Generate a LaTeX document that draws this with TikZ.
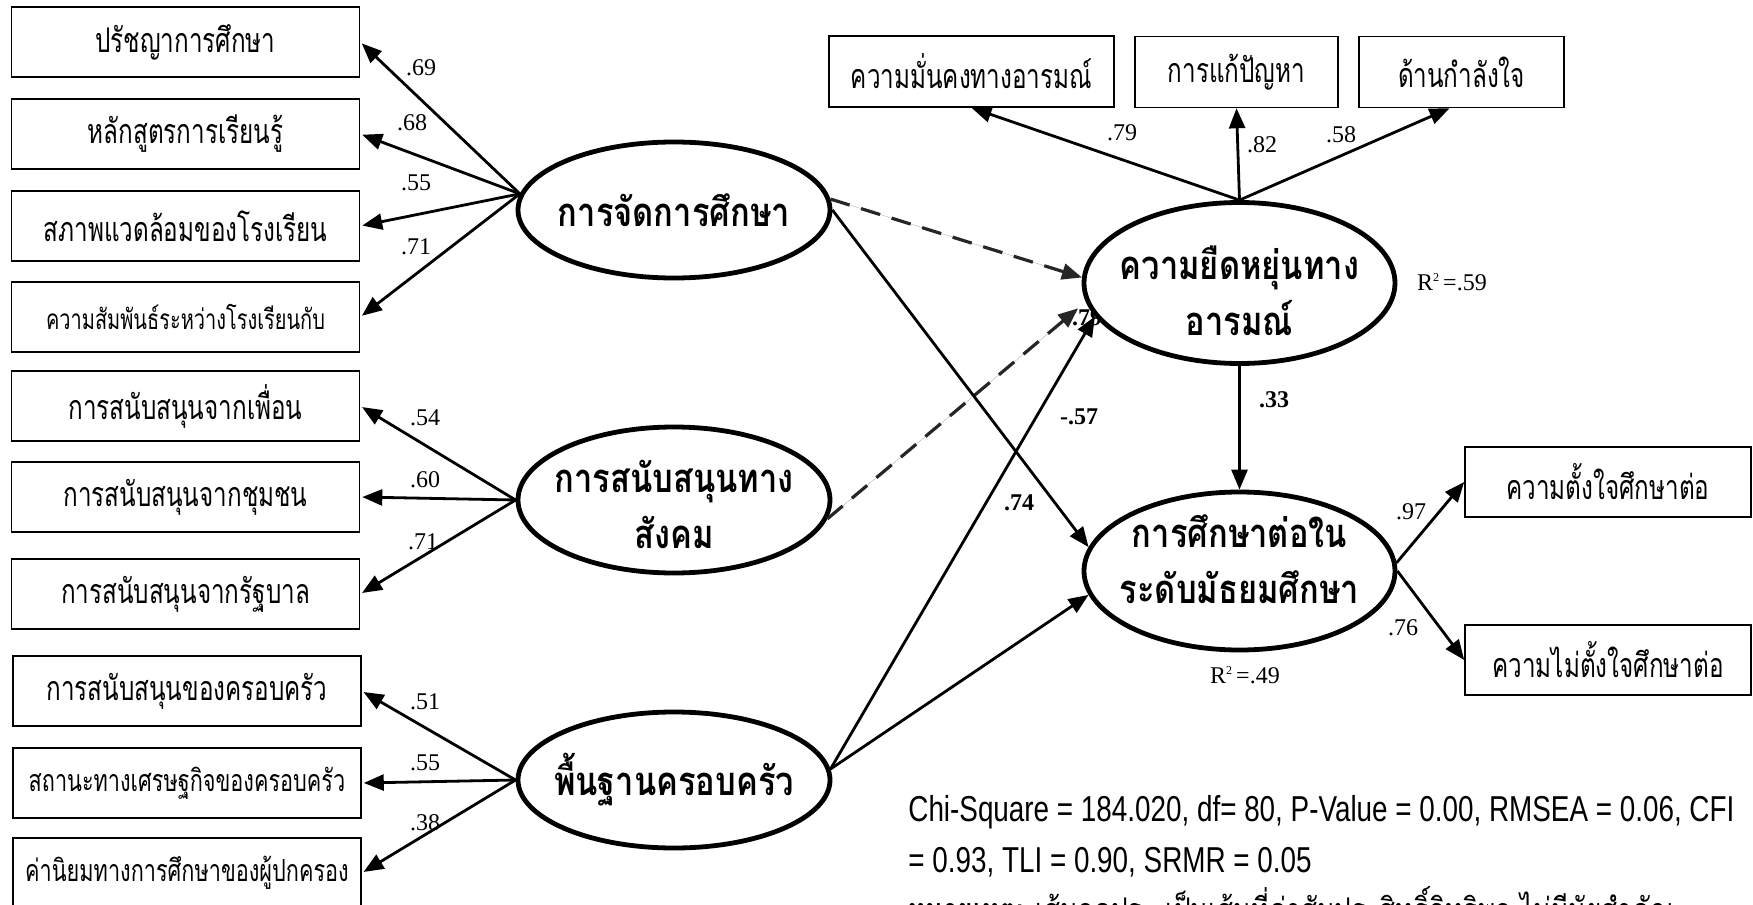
\documentclass[tikz,border=0pt]{standalone}
\usepackage{fontspec}
\setmainfont{Liberation Serif}
\newfontfamily\thai[Script=Thai]{Loma}
\newfontfamily\footfont{Liberation Sans}
\usetikzlibrary{arrows.meta,shapes.geometric}
\newlength\calw
\newcommand\tx[1]{\scalebox{\tsx}[1]{#1}}
\newcommand\ex[1]{\scalebox{\esx}[1]{#1}}
\newcommand\fx[1]{\scalebox{\fsx}[1]{#1}}
\newcommand\rsq[1]{R\raisebox{0.8ex}{\fontsize{6}{7}\selectfont 2}\,=.#1}
\AtBeginDocument{%
\settowidth{\calw}{\thai\fontsize{17}{19}\selectfont การสนับสนุนของครอบครัว}%
\pgfmathsetmacro\tsx{140.5pt/\calw}\global\let\tsx\tsx
\settowidth{\calw}{\thai\bfseries\fontsize{20}{28}\selectfont พื้นฐานครอบครัว}%
\pgfmathsetmacro\esx{120pt/\calw}\global\let\esx\esx
\settowidth{\calw}{\footfont\fontsize{18}{20}\selectfont Chi-Square = 184.020, df= 80, P-Value = 0.00, RMSEA = 0.06, CFI}%
\pgfmathsetmacro\fsx{413pt/\calw}\global\let\fsx\fsx}
\begin{document}
\begin{tikzpicture}[x=0.5pt,y=-0.5pt,
  box/.style={draw, line width=0.8pt, minimum width=174pt, minimum height=35pt, inner sep=0pt, fill=white, font=\thai\fontsize{17}{19}\selectfont},
  lat/.style={draw, ellipse, line width=2.4pt, inner sep=0pt, fill=white, minimum width=156pt},
  lattext/.style={inner sep=0pt, align=center, font=\thai\bfseries\fontsize{20}{28}\selectfont},
  arr/.style={-{Triangle[length=10pt,width=8pt]}, line width=1.4pt},
  dsh/.style={arr, line width=1.6pt, draw=black!85, fill=black!85, dash pattern=on 10pt off 6pt},
  lbl/.style={inner sep=0pt, font=\fontsize{12}{14}\selectfont},
  blbl/.style={inner sep=0pt, font=\fontsize{12}{14}\selectfont\bfseries}]
\useasboundingbox (0,0) rectangle (1753,905);
\clip (0,0) rectangle (1753,905);
\fill[white] (0,0) rectangle (1753,905);
% left indicator boxes
\node[box] (b1) at (185.5,42) {\tx{ปรัชญาการศึกษา}};
\node[box] (b2) at (185.5,134) {\tx{หลักสูตรการเรียนรู้}};
\node[box] (b3) at (185.5,226) {\tx{สภาพแวดล้อมของโรงเรียน}};
\node[box, font=\thai\fontsize{14}{16}\selectfont] (b4) at (185.5,317) {\tx{ความสัมพันธ์ระหว่างโรงเรียนกับ}};
\node[box] (b5) at (185.5,406) {\tx{การสนับสนุนจากเพื่อน}};
\node[box] (b6) at (185.5,497) {\tx{การสนับสนุนจากชุมชน}};
\node[box] (b7) at (185.5,594) {\tx{การสนับสนุนจากรัฐบาล}};
\node[box] (b8) at (187,691) {\tx{การสนับสนุนของครอบครัว}};
\node[box, font=\thai\fontsize{15.2}{17}\selectfont] (b9) at (187,783) {\tx{สถานะทางเศรษฐกิจของครอบครัว}};
\node[box, font=\thai\fontsize{15.2}{17}\selectfont] (b10) at (187,873) {\tx{ค่านิยมทางการศึกษาของผู้ปกครอง}};
% top and right boxes
\node[box, minimum width=142.5pt, minimum height=35.5pt] (t1) at (971.5,71.5) {\tx{ความมั่นคงทางอารมณ์}};
\node[box, minimum width=101.5pt, minimum height=35.5pt] (t2) at (1236.5,72) {\tx{การแก้ปัญหา}};
\node[box, minimum width=102.5pt, minimum height=35.5pt] (t3) at (1461.5,72) {\tx{ด้านกำลังใจ}};
\node[box, minimum width=143pt] (r1) at (1608,482) {\tx{ความตั้งใจศึกษาต่อ}};
\node[box, minimum width=143pt] (r2) at (1608,660) {\tx{ความไม่ตั้งใจศึกษาต่อ}};
% partly hidden path label
\node[blbl] (l79b) at (1087,318) {.79};
% latent variables
\node[lat, minimum height=68pt] (e1) at (674,210) {};
\node[lat, minimum height=73pt] (e2) at (674,500) {};
\node[lat, minimum height=68pt] (e3) at (674,780) {};
\node[lat, minimum width=155.5pt, minimum height=80.5pt] (e4) at (1239.5,283) {};
\node[lat, minimum width=155.5pt, minimum height=79pt] (e5) at (1239.5,571) {};
\node[lattext] (e1t) at (e1.center) {\ex{การจัดการศึกษา}};
\node[lattext] (e2t) at ([yshift=-2pt]e2.center) {\ex{การสนับสนุนทาง}\\\ex{สังคม}};
\node[lattext] (e3t) at (e3.center) {\ex{พื้นฐานครอบครัว}};
\node[lattext] (e4t) at ([yshift=-4pt]e4.center) {\ex{ความยืดหยุ่นทาง}\\\ex{อารมณ์}};
\node[lattext] (e5t) at ([yshift=6pt]e5.center) {\ex{การศึกษาต่อใน}\\\ex{ระดับมัธยมศึกษา}};
% loadings
\foreach \b in {b1,b2,b3,b4} \draw[arr, shorten >=1pt] (e1.174) -- (\b.east);
\foreach \b in {b5,b6,b7} \draw[arr, shorten >=1pt] (e2.west) -- (\b.east);
\foreach \b in {b8,b9,b10} \draw[arr, shorten >=1pt] (e3.west) -- (\b.east);
\draw[arr] (e4.north) -- (t1.south);
\draw[arr] (e4.north) -- (t2.south);
\draw[arr] (e4.north) -- ([xshift=-6pt]t3.south);
\draw[arr] (e5.3) -- (r1.west);
\draw[arr] (e5.east) -- (r2.west);
% structural paths
\draw[dsh] (e1.4) -- (e4.178);
\draw[dsh, shorten >=5pt] (e2.-7) -- (e4.187);
\draw[arr] (e1.east) -- (e5.171);
\draw[arr] (e3.4) -- (e4.193);
\draw[arr] (e3.4) -- (e5.189);
\draw[arr] (e4.south) -- (e5.north);
% labels
\node[lbl] (l1) at (421,68) {.69};
\node[lbl] (l2) at (412,123) {.68};
\node[lbl] (l3) at (416,183) {.55};
\node[lbl] (l4) at (416,247) {.71};
\node[lbl] (l5) at (425,418) {.54};
\node[lbl] (l6) at (425,480) {.60};
\node[lbl] (l7) at (423,542) {.71};
\node[lbl] (l8) at (425,702) {.51};
\node[lbl] (l9) at (425,763) {.55};
\node[lbl] (l10) at (425,823) {.38};
\node[lbl] (l11) at (1122,133) {.79};
\node[lbl] (l12) at (1262,145) {.82};
\node[lbl] (l13) at (1341,135) {.58};
\node[lbl] (l14) at (1411,512) {.97};
\node[lbl] (l15) at (1403,628) {.76};
\node[blbl] (l16) at (1274,400) {.33};
\node[blbl] (l17) at (1079,417) {-.57};
\node[blbl] (l18) at (1019,503) {.74};
\node[lbl] (r59) at (1452,282) {\rsq{59}};
\node[lbl] (r49) at (1245,675) {\rsq{49}};
% fit indices and note
\node[anchor=west, inner sep=0pt, font=\footfont\fontsize{18}{20}\selectfont] (f1) at (908,812) {\fx{Chi-Square = 184.020, df= 80, P-Value = 0.00, RMSEA = 0.06, CFI}};
\node[anchor=west, inner sep=0pt, font=\footfont\fontsize{18}{20}\selectfont] (f2) at (908,862) {\fx{= 0.93, TLI = 0.90, SRMR = 0.05}};
\node[anchor=west, inner sep=0pt, font=\thai\fontsize{17}{19}\selectfont] (f3) at (908,909) {\fx{{\bfseries หมายเหตุ:} เส้นจุดประ เป็นเส้นที่ค่าสัมประสิทธิ์อิทธิพล ไม่มีนัยสำคัญ}};
\end{tikzpicture}
\end{document}
